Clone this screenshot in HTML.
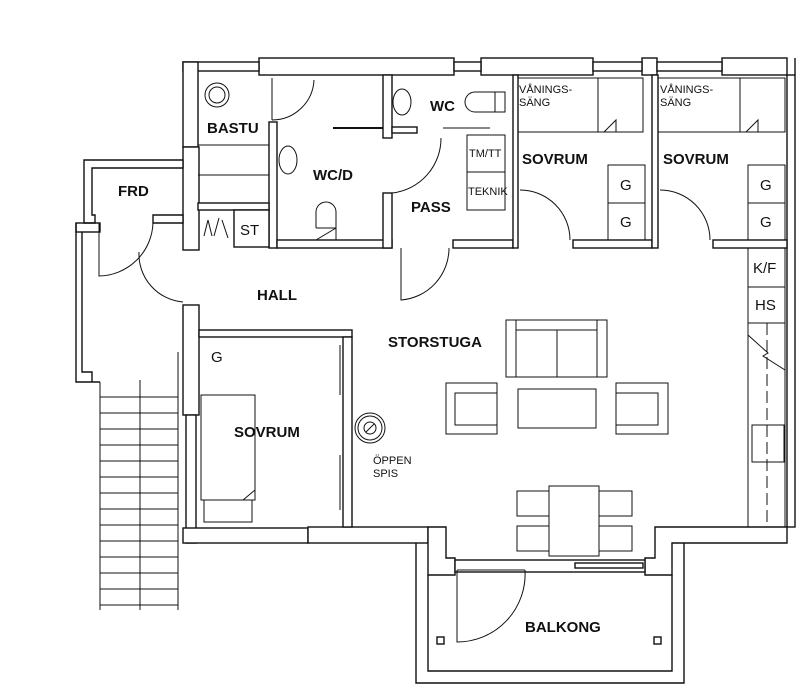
<!DOCTYPE html>
<html><head><meta charset="utf-8"><style>
html,body{margin:0;padding:0;background:#fff}
svg{display:block}
text{font-family:"Liberation Sans",Arial,sans-serif;fill:#111}
.b{font-weight:bold;font-size:15px}
.s{font-size:11px}
.g{font-size:15px}
</style></head><body>
<svg width="800" height="688" viewBox="0 0 800 688" xmlns="http://www.w3.org/2000/svg">
<g fill="#fff" stroke="#111" stroke-width="1.4">
<rect x="259" y="58" width="195" height="17"/>
<rect x="481" y="58" width="112" height="17"/>
<rect x="642" y="58" width="15" height="17"/>
<rect x="722" y="58" width="65" height="17"/>
<rect x="454" y="62" width="27" height="9"/>
<rect x="593" y="62" width="49" height="9"/>
<rect x="657" y="62" width="65" height="9"/>
<rect x="183" y="62" width="76" height="9"/>
<rect x="787" y="75" width="8" height="452"/>
<line x1="795" y1="58" x2="795" y2="75"/>
<rect x="183" y="62" width="15" height="85"/>
<rect x="183" y="147" width="16" height="103"/>
<rect x="183" y="305" width="16" height="110"/>
<rect x="186" y="415" width="10" height="128"/>
<rect x="183" y="528" width="125" height="15"/>
<rect x="308" y="527" width="120" height="16"/>
<polygon points="428,527 446,527 446,558 455,558 455,575 428,575"/>
<polygon points="655,527 787,527 787,543 672,543 672,575 645,575 645,558 655,558"/>
<rect x="455" y="560" width="190" height="12"/>
<rect x="575" y="563" width="68" height="5"/>
<polyline points="428,575 428,671 672,671 672,575" fill="none"/>
<polyline points="416,543 416,683 684,683 684,543" fill="none"/>
<rect x="437" y="637" width="7" height="7"/>
<rect x="654" y="637" width="7" height="7"/>
<polygon points="84,160 183,160 183,168 92,168 92,215 95,215 95,223 84,223"/>
<polygon points="153,215 183,215 183,223 153,223"/>
<rect x="76" y="223" width="24" height="9" fill="none"/>
<polyline points="76,223 76,382 100,382" fill="none"/>
<polyline points="82,232 82,372 92,372 92,382" fill="none"/>
<rect x="269" y="122" width="8" height="126"/>
<rect x="198" y="203" width="71" height="7"/>
<rect x="234" y="210" width="35" height="37"/>
<rect x="277" y="240" width="115" height="8"/>
<rect x="453" y="240" width="60" height="8"/>
<rect x="383" y="75" width="9" height="63"/>
<rect x="383" y="193" width="9" height="55"/>
<rect x="392" y="127" width="25" height="6"/>
<rect x="513" y="75" width="5" height="173"/>
<rect x="573" y="240" width="79" height="8"/>
<rect x="652" y="75" width="6" height="173"/>
<rect x="713" y="240" width="74" height="8"/>
<rect x="199" y="330" width="153" height="7"/>
<rect x="343" y="337" width="9" height="190"/>
</g>
<g fill="none" stroke="#111" stroke-width="1">
<circle cx="217" cy="95" r="12"/><circle cx="217" cy="95" r="8"/>
<line x1="198" y1="145" x2="269" y2="145"/><line x1="198" y1="175" x2="269" y2="175"/>
<line x1="272" y1="78" x2="272" y2="120"/>
<path d="M272,120 A42,42 0 0 0 314,80"/>
<line x1="333" y1="128" x2="383" y2="128" stroke-width="2"/>
<ellipse cx="288" cy="160" rx="9" ry="14"/>
<path d="M316,228 L316,212 A10,10 0 0 1 336,212 L336,228 L316,240 M316,228 L336,228 L336,240"/>
<ellipse cx="402" cy="102" rx="9" ry="13"/>
<path d="M495,92 h-20 a10,10 0 0 0 0,20 h20 z M495,92 h10 v20 h-10"/>
<path d="M392,193 A55,55 0 0 0 441,138"/>
<line x1="443" y1="128" x2="490" y2="128"/>
<rect x="467" y="135" width="38" height="75"/><line x1="467" y1="172" x2="505" y2="172"/>
<path d="M401,248 L401,300 A52,52 0 0 0 449,248"/>
<rect x="518" y="78" width="125" height="54"/>
<polyline points="598,78 598,132"/>
<path d="M604,132 l12,-12 v12"/>
<rect x="658" y="78" width="127" height="54"/>
<line x1="740" y1="78" x2="740" y2="132"/>
<path d="M746,132 l12,-12 v12"/>
<rect x="608" y="165" width="37" height="38"/><rect x="608" y="203" width="37" height="37"/>
<rect x="748" y="165" width="37" height="38"/><rect x="748" y="203" width="37" height="37"/>
<path d="M520,190 A50,50 0 0 1 570,240"/>
<path d="M660,190 A50,50 0 0 1 710,240"/>
<rect x="748" y="248" width="37" height="39"/><rect x="748" y="287" width="37" height="36"/>
<rect x="748" y="323" width="37" height="204"/>
<line x1="767" y1="323" x2="767" y2="527" stroke-dasharray="12,5"/>
<path d="M748,335 l20,18 l-5,3 l22,14"/>
<rect x="752" y="425" width="32" height="37"/>
<path d="M204,236 l4,-16 l4,16 M214,236 l5,-18 M222,220 l6,18"/>
<path d="M99,223 L99,276 A55,55 0 0 0 153,223"/>
<path d="M139,252 A48,48 0 0 0 183,302"/>
<line x1="100" y1="382" x2="100" y2="610"/><line x1="178" y1="352" x2="178" y2="610"/>
<line x1="140" y1="380" x2="140" y2="610"/>
<rect x="201" y="395" width="54" height="105"/>
<rect x="204" y="500" width="48" height="22"/>
<path d="M243,500 l12,-10"/>
<line x1="340" y1="345" x2="340" y2="395"/><line x1="340" y1="455" x2="340" y2="510"/>
<circle cx="370" cy="428" r="15"/><circle cx="370" cy="428" r="12"/><circle cx="370" cy="428" r="6"/>
<line x1="366" y1="432" x2="374" y2="424"/>
<rect x="506" y="320" width="101" height="57"/><line x1="516" y1="320" x2="516" y2="377"/><line x1="597" y1="320" x2="597" y2="377"/><line x1="516" y1="330" x2="597" y2="330"/><line x1="557" y1="330" x2="557" y2="377"/>
<rect x="446" y="383" width="51" height="51"/><rect x="455" y="393" width="42" height="32"/>
<rect x="616" y="383" width="52" height="51"/><rect x="616" y="393" width="42" height="32"/>
<rect x="518" y="389" width="78" height="39"/>
<rect x="549" y="486" width="50" height="70"/>
<rect x="517" y="491" width="32" height="25"/><rect x="517" y="526" width="32" height="25"/>
<rect x="599" y="491" width="33" height="25"/><rect x="599" y="526" width="33" height="25"/>
<path d="M457,570 L457,642 A68,68 0 0 0 525,570"/>
<line x1="457" y1="570" x2="525" y2="570"/>
</g>
<g stroke="#111" stroke-width="1">
<line x1="100" y1="397" x2="178" y2="397"/><line x1="100" y1="413" x2="178" y2="413"/><line x1="100" y1="429" x2="178" y2="429"/><line x1="100" y1="445" x2="178" y2="445"/><line x1="100" y1="461" x2="178" y2="461"/><line x1="100" y1="477" x2="178" y2="477"/><line x1="100" y1="493" x2="178" y2="493"/><line x1="100" y1="509" x2="178" y2="509"/><line x1="100" y1="525" x2="178" y2="525"/><line x1="100" y1="541" x2="178" y2="541"/><line x1="100" y1="557" x2="178" y2="557"/><line x1="100" y1="573" x2="178" y2="573"/><line x1="100" y1="589" x2="178" y2="589"/><line x1="100" y1="605" x2="178" y2="605"/>
</g>
<text class="b" x="207" y="133">BASTU</text>
<text class="b" x="313" y="180">WC/D</text>
<text class="b" x="430" y="111">WC</text>
<text class="b" x="411" y="212">PASS</text>
<text class="s" x="469" y="157" font-size="9">TM/TT</text>
<text class="s" x="468" y="195" font-size="9">TEKNIK</text>
<text class="s" x="519" y="93">VÅNINGS-</text><text class="s" x="519" y="106">SÄNG</text>
<text class="s" x="660" y="93">VÅNINGS-</text><text class="s" x="660" y="106">SÄNG</text>
<text class="b" x="522" y="164">SOVRUM</text>
<text class="b" x="663" y="164">SOVRUM</text>
<text class="g" x="620" y="190">G</text><text class="g" x="620" y="227">G</text>
<text class="g" x="760" y="190">G</text><text class="g" x="760" y="227">G</text>
<text class="g" x="753" y="273">K/F</text><text class="g" x="755" y="310">HS</text>
<text class="b" x="118" y="196">FRD</text>
<text class="g" x="240" y="235">ST</text>
<text class="b" x="257" y="300">HALL</text>
<text class="b" x="388" y="347">STORSTUGA</text>
<text class="g" x="211" y="362">G</text>
<text class="b" x="234" y="437">SOVRUM</text>
<text class="s" x="373" y="464">ÖPPEN</text><text class="s" x="373" y="477">SPIS</text>
<text class="b" x="525" y="632">BALKONG</text>
</svg>
</body></html>
